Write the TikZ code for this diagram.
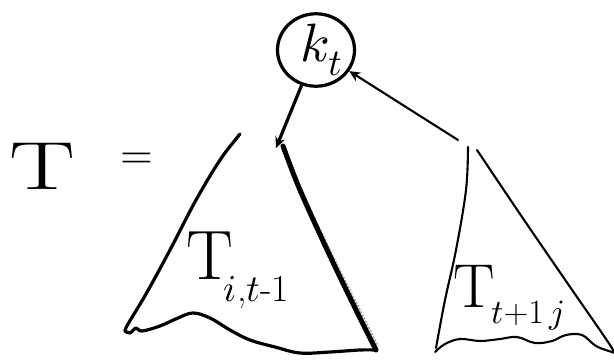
\documentclass[tikz,border=0pt]{standalone}
\usepackage{unicode-math}
\usetikzlibrary{shapes.geometric,arrows.meta}
\tikzset{
  ink/.style={line width=3.2pt, line cap=round, line join=round},
  thinink/.style={line width=2.1pt, line cap=round, line join=round},
  big/.style={inner sep=0pt, anchor=north west},
  rootnode/.style={draw, ellipse, line width=3.2pt, minimum width=77pt, minimum height=60pt, inner sep=0pt, font=\fontsize{54}{54}\selectfont},
  arr/.style={-{Stealth[length=11pt,width=10pt]}}
}
\begin{document}
\begin{tikzpicture}[x=1pt,y=-1pt]
\useasboundingbox (0,0) rectangle (614,361);
% left side label
\node[big, font=\fontsize{68}{68}\selectfont] (T) at (9,143) {\scalebox{1.45}[1]{T}};
\node[font=\fontsize{42}{42}\selectfont, inner sep=0pt] (eq) at (137,161) {$=$};
% root
\node[rootnode] (root) at (316,50) {\kern12pt$k_t$};
% subtree apexes
\coordinate (lapex) at (276,148);
\coordinate (rapex) at (458,140);
% connectors
\draw[ink, arr] (root) -- (lapex);
\draw[thinink, arr] (rapex) -- (root);
% left subtree
\draw[ink] plot[smooth, tension=0.6] coordinates {(240,134) (236,139) (220,160) (196,200) (170,250) (146,294) (128,324) (125,331)};
\draw[ink] plot[smooth, tension=0.6] coordinates {(125,331) (130,333) (136,328) (142,331) (160,326) (178,318) (193,313) (210,318) (230,330) (250,340) (275,347) (300,353) (330,352) (360,350) (376,350)};
\draw[gray!70, line width=1.6pt, dash pattern=on 2pt off 1.5pt] plot[smooth, tension=0.6] coordinates {(288,160) (304,196) (334,258) (362,314) (378,346)};
\draw[line width=5pt, line cap=round] plot[smooth, tension=0.6] coordinates {(283,146) (300,190) (330,256) (358,314) (376,350)};
% right subtree
\draw[thinink] plot[smooth, tension=0.6] coordinates {(468,147) (466,190) (456,250) (445,300) (436,348)};
\draw[thinink] plot[smooth, tension=0.6] coordinates {(477,150) (520,214) (568,284) (610,345) (612,352)};
\draw[thinink] plot[smooth, tension=0.6] coordinates {(435,352) (445,344) (460,339) (480,341) (500,339) (517,337) (535,343) (552,341) (566,335) (582,335) (596,346) (612,352)};
% subtree labels
\node[big, font=\fontsize{70}{70}\selectfont] (Tl) at (186,232) {T\kern-9pt\lower22pt\hbox{\fontsize{38}{38}\selectfont$i$,$t$-1}};
\node[big, font=\fontsize{62}{62}\selectfont] (Tr) at (453,265) {T\kern-3pt\lower16pt\hbox{\fontsize{34}{34}\selectfont$t$+1\,$j$}};
\end{tikzpicture}
\end{document}
